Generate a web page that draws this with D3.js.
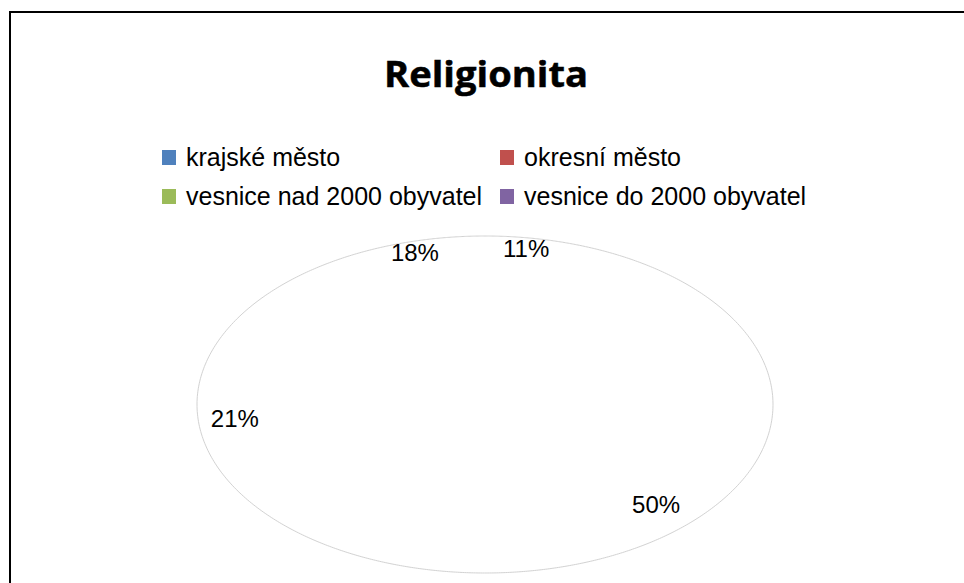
<!DOCTYPE html>
<html>
<head>
<meta charset="utf-8">
<script src="https://cdn.jsdelivr.net/npm/d3@7"></script>
<style>
  html, body { margin: 0; padding: 0; background: #ffffff; }
  svg { display: block; }
</style>
</head>
<body>
<svg id="chart" width="964" height="583"></svg>
<script>
// ---- data ----
const title = "Religionita";
const categories = ["krajské město", "okresní město", "vesnice nad 2000 obyvatel", "vesnice do 2000 obyvatel"];
const values = [11, 50, 21, 18];
const palette = ["#4F81BD", "#C0504D", "#9BBB59", "#8064A2"];

// ---- layout ----
const W = 964, H = 583;
const svg = d3.select("#chart");
const color = d3.scaleOrdinal().domain(categories).range(palette);

// chart frame (extends past the right and bottom edges)
svg.append("rect")
  .attr("x", 10).attr("y", 12)
  .attr("width", 990).attr("height", 620)
  .attr("fill", "#ffffff")
  .attr("stroke", "#000000").attr("stroke-width", 2);

// title
svg.append("text")
  .attr("x", 486).attr("y", 87)
  .attr("text-anchor", "middle")
  .attr("font-family", "'Open Sans', 'Liberation Sans', sans-serif")
  .attr("font-weight", 700)
  .attr("font-size", 35)
  .attr("textLength", 204)
  .attr("lengthAdjust", "spacingAndGlyphs")
  .attr("fill", "#000000")
  .attr("stroke", "#000000")
  .attr("stroke-width", 0.5)
  .text(title);

// legend: 2 columns x 2 rows
const legCols = [162, 500], legRows = [166, 205];
const leg = svg.append("g");
categories.forEach((c, i) => {
  const x = legCols[i % 2], base = legRows[Math.floor(i / 2)];
  leg.append("rect")
    .attr("x", x).attr("y", base - 16)
    .attr("width", 14).attr("height", 15)
    .attr("fill", color(c));
  leg.append("text")
    .attr("x", x + 24).attr("y", base)
    .attr("font-family", "'Liberation Sans', Arial, sans-serif")
    .attr("font-size", 25)
    .attr("fill", "#000000")
    .text(c);
});

// pie drawn as a tilted (elliptical) 3-D style pie
const ell = { cx: 485, cy: 404.5, rx: 288, ry: 168.5 };
const apex = { x: 485, y: 368 };   // projected centre of the pie

function rayDist(a) {
  const s = Math.sin(a), c = Math.cos(a);
  const px = apex.x - ell.cx, py = apex.y - ell.cy;
  const A = (s * s) / (ell.rx * ell.rx) + (c * c) / (ell.ry * ell.ry);
  const B = 2 * (px * s / (ell.rx * ell.rx) - py * c / (ell.ry * ell.ry));
  const C0 = (px * px) / (ell.rx * ell.rx) + (py * py) / (ell.ry * ell.ry) - 1;
  return (-B + Math.sqrt(B * B - 4 * A * C0)) / (2 * A);
}
function pt(a, f) {
  const d = rayDist(a) * f;
  return [apex.x + Math.sin(a) * d, apex.y - Math.cos(a) * d];
}
function rim(a0, a1) {
  const n = Math.max(2, Math.ceil((a1 - a0) / (Math.PI / 360)));
  return d3.range(n + 1).map(k => pt(a0 + (a1 - a0) * k / n, 1));
}

const pie = d3.pie().sort(null).value(d => d.v);
const arcs = pie(categories.map((c, i) => ({ c, v: values[i] })));
const total = d3.sum(values);
const line = d3.line();

const g = svg.append("g");
g.selectAll("path.slice").data(arcs).join("path")
  .attr("class", "slice")
  .attr("d", d => line([[apex.x, apex.y], ...rim(d.startAngle, d.endAngle)]) + "Z")
  .attr("fill", "#ffffff")
  .attr("stroke", "#ffffff")
  .attr("stroke-width", 1);

g.selectAll("path.edge").data(arcs).join("path")
  .attr("class", "edge")
  .attr("d", d => line(rim(d.startAngle, d.endAngle)))
  .attr("fill", "none")
  .attr("stroke", "#d2d2d2")
  .attr("stroke-width", 1);

// data labels
g.selectAll("text.lbl").data(arcs).join("text")
  .attr("class", "lbl")
  .each(function (d) {
    const p = pt((d.startAngle + d.endAngle) / 2, 0.88);
    d3.select(this).attr("x", p[0]).attr("y", p[1] + 3.5);
  })
  .attr("text-anchor", "middle")
  .attr("font-family", "'Liberation Sans', Arial, sans-serif")
  .attr("font-size", 24)
  .attr("fill", "#000000")
  .text(d => Math.round(d.data.v / total * 100) + "%");
</script>
</body>
</html>
